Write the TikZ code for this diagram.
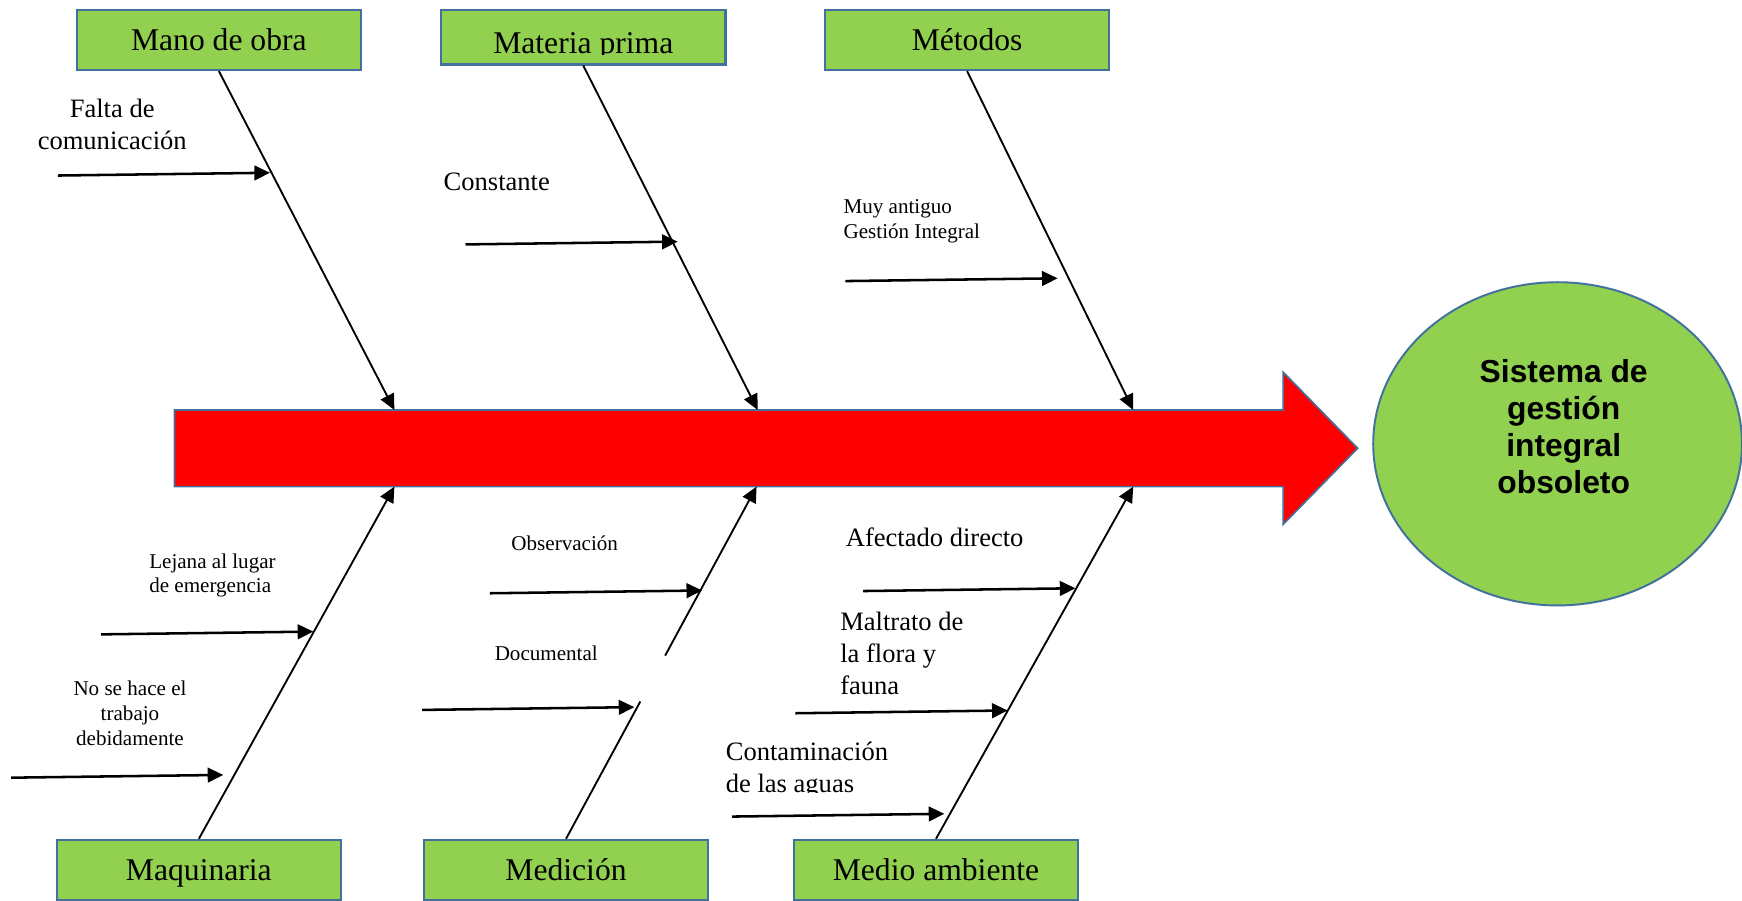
\documentclass[tikz,border=0pt]{standalone}
\usepackage{fontspec}
\setmainfont{Liberation Serif}
\newfontfamily\effectfont{Liberation Sans}
\usetikzlibrary{arrows.meta, calc, shapes.geometric}
\definecolor{boxgreen}{HTML}{92D050}
\definecolor{boxblue}{HTML}{41719C}

\begin{document}
\begin{tikzpicture}[x = 0.02cm, y = -0.02cm,
	category/.style = {draw = boxblue, line width = 1.15pt, fill = boxgreen, minimum width = 5.12cm, minimum height = 1.08cm, inner sep = 0pt, text depth = 0pt, font = \fontsize{16.2}{19}\selectfont},
	effect/.style = {ellipse, draw = boxblue, line width = 1pt, fill = boxgreen, minimum width = 6.64cm, minimum height = 5.82cm},
	bone/.style = {line width = 0.95pt, -{Triangle[length = 8pt, width = 7.5pt]}},
	cause/.style = {line width = 1.3pt, -{Triangle[length = 8pt, width = 7.5pt]}},
	medium/.style = {font = \fontsize{13.6}{16.3}\selectfont, inner sep = 0pt},
	small/.style = {font = \fontsize{10.8}{12.6}\selectfont, inner sep = 0pt}]
		\clip (0,0) rectangle (1568,811);
		\filldraw [fill = red, draw = boxblue, line width = 0.85pt] (157,369) -- (1155,369) -- (1155,335) -- (1222,403.5) -- (1155,472) -- (1155,438) -- (157,438) -- cycle;
		\coordinate (t1) at (355,369);
		\coordinate (t2) at (682,369);
		\coordinate (t3) at (1020,369);
		\coordinate (b1) at (355,438);
		\coordinate (b2) at (681,438);
		\coordinate (b3) at (1020,438);
		\node [effect] (ef) at (1402,399.5) {};
		\node [font = \effectfont\bfseries\fontsize{16.3}{19.1}\selectfont, align = center] (eftext) at (1407.5,384) {Sistema de\\gestión\\integral\\obsoleto};
		\node [category] (mo) at (197,36) {Mano de obra};
		\node [category, minimum height = 0.98cm] (mp) at (525,33.5) {};
		\begin{scope}
			\clip (398,0) rectangle (652,49);
			\node [font = \fontsize{16.2}{19}\selectfont, anchor = base] (mptext) at (525,48) {Materia prima};
		\end{scope}
		\node [category] (me) at (870.5,36) {Métodos};
		\node [category] (ma) at (179,783) {Maquinaria};
		\node [category] (md) at (509.5,783) {Medición};
		\node [category] (am) at (842.5,783) {Medio ambiente};
		\draw [bone] (mo.south) -- (t1);
		\draw [bone] (mp.south) -- (t2);
		\draw [bone] (me.south) -- (t3);
		\draw [bone] (ma.north) -- (b1);
		\draw [line width = 0.95pt] (md.north) -- ($(md.north)!0.39!(b2)$);
		\draw [bone] ($(md.north)!0.52!(b2)$) -- (b2);
		\draw [bone] (am.north) -- (b3);
		\foreach \name/\x/\y in {falta/52/158, constante/419/220, antiguo/761/253, lejana/91/571, trabajo/10/700, observacion/441/534, documental/380/639, afectado/777/532, maltrato/716/642, aguas/659/735}
			\draw [cause] (\x,\y) coordinate (\name-tail) -- ++(191,-2.5) coordinate (\name-tip);
		\node [medium, align = center] (falta) at (101,112) {Falta de\\comunicación};
		\node [medium, anchor = west] (constante) at (399,164) {Constante};
		\node [small, align = left, anchor = west] (antiguo) at (759,199) {Muy antiguo\\Gestión Integral};
		\node [small, align = left, anchor = west] (lejana) at (134,518) {Lejana al lugar\\de emergencia};
		\node [small, align = center] (trabajo) at (117,642) {No se hace el\\trabajo\\debidamente};
		\node [small, anchor = west] (observacion) at (460,489) {Observación};
		\node [small, anchor = west] (documental) at (445,588) {Documental};
		\node [medium, anchor = west] (afectado) at (761,484) {Afectado directo};
		\node [medium, align = left, anchor = west] (maltrato) at (756,588) {Maltrato de\\la flora y\\fauna};
		\begin{scope}
			\clip (640,650) rectangle (820,713);
			\node [medium, align = left, anchor = west] (aguas) at (653,693) {Contaminación\\de las aguas};
		\end{scope}
	\end{tikzpicture}
\end{document}
